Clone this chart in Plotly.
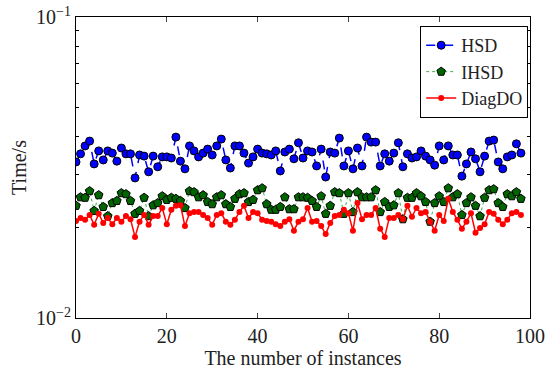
import plotly.graph_objects as go

instances = list(range(0, 99))

hsd = [0.0330, 0.0351, 0.0373, 0.0387, 0.0325, 0.0359, 0.0335, 0.0359, 0.0353, 0.0332,
       0.0367, 0.0351, 0.0351, 0.0292, 0.0348, 0.0345, 0.0306, 0.0345, 0.0318, 0.0343,
       0.0343, 0.0340, 0.0399, 0.0332, 0.0313, 0.0373, 0.0359, 0.0343, 0.0353, 0.0364,
       0.0348, 0.0373, 0.0393, 0.0335, 0.0315, 0.0373, 0.0373, 0.0353, 0.0327, 0.0343,
       0.0364, 0.0353, 0.0351, 0.0348, 0.0359, 0.0308, 0.0356, 0.0364, 0.0338, 0.0382,
       0.0340, 0.0359, 0.0356, 0.0320, 0.0364, 0.0294, 0.0356, 0.0353, 0.0396, 0.0320,
       0.0359, 0.0313, 0.0367, 0.0320, 0.0399, 0.0384, 0.0384, 0.0320, 0.0351, 0.0332,
       0.0353, 0.0382, 0.0318, 0.0351, 0.0340, 0.0343, 0.0359, 0.0345, 0.0335, 0.0322,
       0.0373, 0.0335, 0.0373, 0.0348, 0.0348, 0.0296, 0.0325, 0.0356, 0.0338, 0.0306,
       0.0345, 0.0387, 0.0390, 0.0330, 0.0313, 0.0343, 0.0348, 0.0379, 0.0353]

ihsd = [0.0236, 0.0252, 0.0251, 0.0264, 0.0227, 0.0256, 0.0234, 0.0218, 0.0241, 0.0245,
        0.0260, 0.0258, 0.0245, 0.0222, 0.0227, 0.0251, 0.0218, 0.0237, 0.0241, 0.0254,
        0.0247, 0.0251, 0.0249, 0.0245, 0.0232, 0.0264, 0.0262, 0.0252, 0.0256, 0.0243,
        0.0239, 0.0252, 0.0256, 0.0239, 0.0234, 0.0249, 0.0258, 0.0260, 0.0243, 0.0247,
        0.0266, 0.0270, 0.0239, 0.0229, 0.0229, 0.0234, 0.0252, 0.0230, 0.0230, 0.0252,
        0.0252, 0.0251, 0.0245, 0.0234, 0.0254, 0.0222, 0.0236, 0.0262, 0.0260, 0.0222,
        0.0260, 0.0225, 0.0262, 0.0252, 0.0252, 0.0252, 0.0266, 0.0225, 0.0243, 0.0234,
        0.0237, 0.0260, 0.0213, 0.0251, 0.0251, 0.0260, 0.0254, 0.0243, 0.0209, 0.0241,
        0.0254, 0.0243, 0.0270, 0.0252, 0.0258, 0.0220, 0.0241, 0.0252, 0.0236, 0.0218,
        0.0251, 0.0266, 0.0268, 0.0241, 0.0234, 0.0258, 0.0254, 0.0262, 0.0249]

diagdo = [0.0210, 0.0215, 0.0212, 0.0220, 0.0204, 0.0222, 0.0207, 0.0215, 0.0205, 0.0215,
          0.0209, 0.0218, 0.0213, 0.0186, 0.0209, 0.0220, 0.0204, 0.0218, 0.0218, 0.0232,
          0.0205, 0.0229, 0.0236, 0.0237, 0.0202, 0.0223, 0.0225, 0.0225, 0.0220, 0.0215,
          0.0204, 0.0220, 0.0223, 0.0209, 0.0204, 0.0212, 0.0225, 0.0236, 0.0215, 0.0225,
          0.0223, 0.0212, 0.0210, 0.0209, 0.0205, 0.0202, 0.0209, 0.0213, 0.0195, 0.0209,
          0.0213, 0.0232, 0.0209, 0.0210, 0.0202, 0.0190, 0.0207, 0.0218, 0.0220, 0.0229,
          0.0223, 0.0195, 0.0241, 0.0213, 0.0220, 0.0220, 0.0232, 0.0198, 0.0186, 0.0215,
          0.0215, 0.0220, 0.0213, 0.0236, 0.0217, 0.0232, 0.0223, 0.0225, 0.0209, 0.0195,
          0.0220, 0.0210, 0.0249, 0.0225, 0.0212, 0.0198, 0.0209, 0.0223, 0.0192, 0.0199,
          0.0205, 0.0225, 0.0222, 0.0212, 0.0205, 0.0212, 0.0223, 0.0225, 0.0220]

x_ticks = [0, 20, 40, 60, 80, 100]
y_ticks = [0.01, 0.1]
y_ticktext = ["10<sup>\u22122</sup>", "10<sup>\u22121</sup>"]
y_minor = [0.02, 0.03, 0.04, 0.05, 0.06, 0.07, 0.08, 0.09]

font = "Liberation Serif"
txt = "#222222"

fig = go.Figure()
fig.add_trace(go.Scatter(
    x=instances, y=hsd, name="HSD", mode="lines+markers",
    line=dict(color="#0000ff", width=1.5, dash="dash"),
    marker=dict(symbol="circle", size=8, color="#0000ff", line=dict(color="black", width=1)),
))
fig.add_trace(go.Scatter(
    x=instances, y=ihsd, name="IHSD", mode="lines+markers",
    line=dict(color="#3cb043", width=1, dash="dot"),
    marker=dict(symbol="pentagon", size=9, color="#006400", line=dict(color="black", width=1)),
))
fig.add_trace(go.Scatter(
    x=instances, y=diagdo, name="DiagDO", mode="lines+markers",
    line=dict(color="#ff0000", width=1.5),
    marker=dict(symbol="circle", size=6, color="#ff0000"),
))

fig.update_layout(
    width=548, height=377,
    margin=dict(l=76, r=18, t=17, b=59),
    paper_bgcolor="white", plot_bgcolor="white",
    font=dict(family=font, size=20, color=txt),
    showlegend=True,
    legend=dict(
        x=0.996, y=0.97, xanchor="right", yanchor="top",
        bgcolor="white", bordercolor="black", borderwidth=1,
        font=dict(family=font, size=18, color=txt),
        tracegroupgap=0, itemwidth=30,
    ),
)
fig.update_xaxes(
    range=[0, 100], tickvals=x_ticks, ticks="inside", ticklen=5,
    showline=True, linecolor="black", linewidth=1, mirror="ticks",
    showgrid=False, zeroline=False, automargin=False,
    title=dict(text="The number of instances", standoff=2,
               font=dict(family=font, size=20, color=txt)),
    tickfont=dict(family=font, size=20, color=txt),
)
fig.update_yaxes(
    type="log", range=[-2, -1], tickvals=y_ticks, ticktext=y_ticktext,
    ticks="inside", ticklen=5,
    minor=dict(tickmode="array", tickvals=y_minor, ticks="inside", ticklen=3,
               tickcolor="black", showgrid=False),
    showline=True, linecolor="black", linewidth=1, mirror="ticks",
    showgrid=False, zeroline=False, automargin=False,
    title=dict(text="Time/s", standoff=4,
               font=dict(family=font, size=20, color=txt)),
    tickfont=dict(family=font, size=20, color=txt),
)

fig.write_html("out.html",
               config={"displayModeBar": False},
               post_script="document.body.style.margin='0';document.body.style.overflow='hidden';")
